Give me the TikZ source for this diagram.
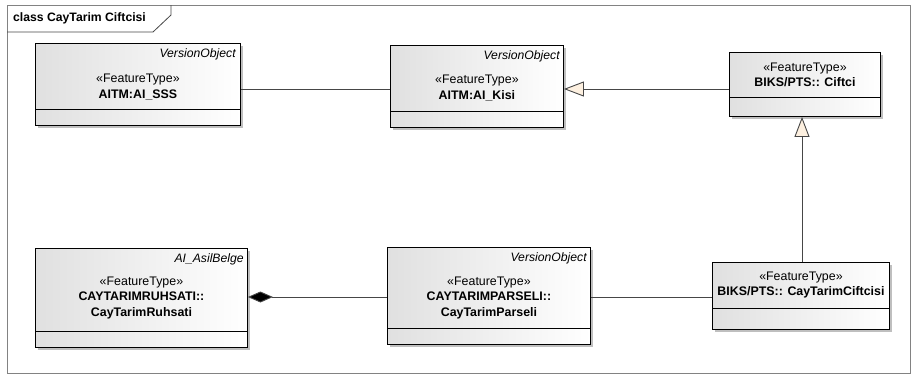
\documentclass[tikz,border=0pt]{standalone}
\usepackage{fontspec}
\setmainfont{Liberation Sans}
\usetikzlibrary{arrows.meta, positioning, shadows}
\definecolor{boxshade}{RGB}{224,224,224}
\definecolor{genfill}{RGB}{253,240,224}
\definecolor{linegray}{RGB}{70,70,70}
\definecolor{framegray}{RGB}{130,130,130}

\begin{document}
\begin{tikzpicture}[
  x=1pt, y=-1pt,
  umlbox/.style={rectangle, draw=black, line width=0.9pt, anchor=north west, inner sep=0pt,
                 left color=boxshade, middle color=white!96!black, right color=white,
                 drop shadow={shadow xshift=3pt, shadow yshift=-3pt, fill=black!25, opacity=1}},
  clstext/.style={align=center, inner sep=0pt, font=\fontsize{12.4}{15.5}\selectfont},
  basetag/.style={anchor=north east, inner sep=0pt, font=\itshape\fontsize{12.2}{14}\selectfont},
  conn/.style={draw=linegray, line width=0.9pt},
  gen/.style={conn, -{Triangle[length=20pt, width=15pt, fill=genfill]}},
  comp/.style={conn, -{Diamond[length=25pt, width=11pt, fill=black]}}
]
  \useasboundingbox (0,0) rectangle (911,375);

  % frame and title tab
  \draw[framegray, line width=1pt] (7,5) rectangle (910,373);
  \draw[linegray, line width=0.8pt] (7,32) -- (153,32) -- (171,15) -- (171,5);
  \node[anchor=west, inner sep=0pt, font=\bfseries\fontsize{12.2}{14}\selectfont] (title) at (13,18) {class CayTarim Ciftcisi};

  % classes
  \node[umlbox, minimum width=205pt, minimum height=82pt] (sss) at (35,43) {};
  \node[umlbox, minimum width=173pt, minimum height=82pt] (kisi) at (390,45) {};
  \node[umlbox, minimum width=151pt, minimum height=64pt] (ciftci) at (729,52) {};
  \node[umlbox, minimum width=212pt, minimum height=99pt] (ruhsati) at (35,248) {};
  \node[umlbox, minimum width=203pt, minimum height=97pt] (parseli) at (387,247) {};
  \node[umlbox, minimum width=177pt, minimum height=67pt] (ctc) at (712,262) {};

  % compartment lines
  \foreach \cls/\gap in {sss/16, kisi/16, ciftci/19, ruhsati/16, parseli/16, ctc/21}
    \draw[line width=0.9pt] ([yshift=\gap pt]\cls.south west) -- ([yshift=\gap pt]\cls.south east);

  % base class tags
  \node[basetag] (sssBase) at ([xshift=-5pt, yshift=-5pt]sss.north east) {VersionObject};
  \node[basetag] (kisiBase) at ([xshift=-4pt, yshift=-5pt]kisi.north east) {VersionObject};
  \node[basetag] (ruhsatiBase) at ([xshift=-4pt, yshift=-5pt]ruhsati.north east) {AI\_AsilBelge};
  \node[basetag] (parseliBase) at ([xshift=-4pt, yshift=-5pt]parseli.north east) {VersionObject};

  % stereotypes and names
  \node[clstext] (sssName) at ([yshift=-44pt]sss.north) {«FeatureType»\\\textbf{AITM:AI\_SSS}};
  \node[clstext] (kisiName) at ([yshift=-43pt]kisi.north) {«FeatureType»\\\textbf{AITM:AI\_Kisi}};
  \node[clstext] (ciftciName) at ([yshift=-23pt]ciftci.north) {«FeatureType»\\\textbf{BIKS/PTS:: Ciftci}};
  \node[clstext] (ruhsatiName) at ([yshift=-50pt]ruhsati.north) {«FeatureType»\\\textbf{CAYTARIMRUHSATI::}\\\textbf{CayTarimRuhsati}};
  \node[clstext] (parseliName) at ([yshift=-51pt]parseli.north) {«FeatureType»\\\textbf{CAYTARIMPARSELI::}\\\textbf{CayTarimParseli}};
  \node[clstext] (ctcName) at ([yshift=-23pt]ctc.north) {«FeatureType»\\\textbf{BIKS/PTS:: CayTarimCiftcisi}};

  % connectors
  \coordinate (row1) at (0,89);
  \coordinate (row2) at (0,297);
  \coordinate (col) at (802,0);
  \draw[conn] (sss.east |- row1) -- (kisi.west |- row1);
  \draw[gen] (ciftci.west |- row1) -- (kisi.east |- row1);
  \draw[gen] (ctc.north -| col) -- (ciftci.south -| col);
  \draw[comp] (parseli.west |- row2) -- (ruhsati.east |- row2);
  \draw[conn] (parseli.east |- row2) -- (ctc.west |- row2);
\end{tikzpicture}
\end{document}
